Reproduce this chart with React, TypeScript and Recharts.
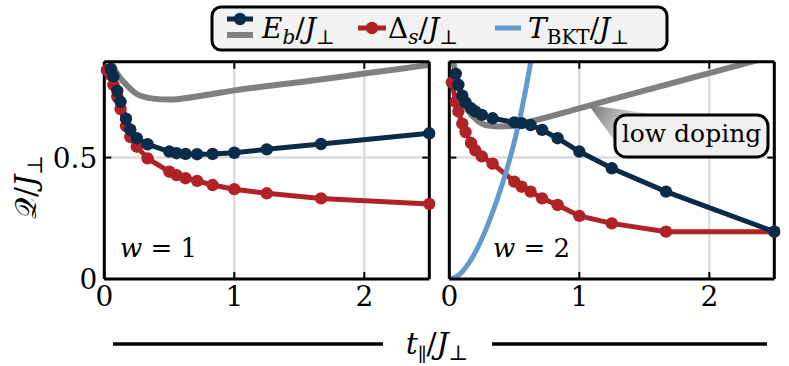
import React from "react";
import { LineChart, Line, XAxis, YAxis, CartesianGrid, ReferenceDot } from "recharts";

const SERIF = "DejaVu Serif, Liberation Serif, serif";
const NAVY = "#0b2b4b";
const RED = "#b02226";
const GRAY = "#808080";
const BLUE = "#6399cb";

// t_par / J_perp sample points (shared by E_b and Delta_s)
const tPar = [0.02, 0.05, 0.07, 0.1, 0.125, 0.167, 0.2, 0.25, 0.333, 0.5, 0.556, 0.625, 0.714, 0.833, 1.0, 1.25, 1.667, 2.5];

// w = 1
const ebW1 = [null, 0.865, 0.835, 0.775, 0.73, 0.66, 0.615, 0.58, 0.555, 0.525, 0.518, 0.515, 0.514, 0.515, 0.52, 0.534, 0.556, 0.6];
const dsW1 = [0.86, 0.84, 0.8, 0.75, 0.7, 0.63, 0.585, 0.545, 0.497, 0.442, 0.428, 0.415, 0.404, 0.387, 0.37, 0.353, 0.332, 0.309];
const lowX1 = [0.04, 0.08, 0.12, 0.16, 0.25, 0.375, 0.5, 0.75, 1.0, 1.5, 2.0, 2.5];
const lowW1 = [0.9, 0.862, 0.83, 0.805, 0.762, 0.743, 0.739, 0.755, 0.777, 0.81, 0.846, 0.882];

// w = 2
const ebW2 = [null, 0.845, 0.8, 0.755, 0.727, 0.703, 0.69, 0.676, 0.662, 0.645, 0.642, 0.634, 0.614, 0.58, 0.525, 0.456, 0.36, 0.195];
const dsW2 = [0.81, 0.73, 0.69, 0.64, 0.605, 0.56, 0.53, 0.505, 0.475, 0.401, 0.38, 0.36, 0.332, 0.305, 0.26, 0.229, 0.195, 0.195];
const lowX2 = [0.03, 0.06, 0.1, 0.15, 0.2, 0.3, 0.4, 0.5, 0.62, 1.0, 1.5, 2.0, 2.5];
const lowW2 = [0.895, 0.82, 0.75, 0.69, 0.66, 0.632, 0.628, 0.632, 0.648, 0.703, 0.776, 0.848, 0.92];
const bktX = [0, 0.05, 0.1, 0.15, 0.2, 0.25, 0.3, 0.35, 0.4, 0.45, 0.5, 0.55, 0.6, 0.65, 0.7];
const bktW2 = [0.0, 0.008, 0.03, 0.065, 0.11, 0.165, 0.228, 0.3, 0.378, 0.465, 0.565, 0.68, 0.815, 0.97, 1.14];

const xTicks = [0, 1, 2];
const yTicks = [0, 0.5];

function rows(xs: number[], ys: (number | null)[]) {
  return xs
    .map((x, i) => ({ x, y: ys[i] }))
    .filter((r) => r.y !== null);
}

const NoTick = () => <g />;

const dotStyle = (c: string) => ({ r: 6.2, fill: c, stroke: c, strokeWidth: 0, clipDot: false });

function wLabel(w: string) {
  return (props: any) => (
    <text x={props.cx} y={props.cy} fontFamily={SERIF} fontSize={26} fill="#000">
      <tspan fontStyle="italic">w</tspan>
      {" = "}
      {w}
    </text>
  );
}

function LowDopingTag(props: any) {
  const { cx, cy } = props;
  return (
    <g>
      <defs>
        <linearGradient
          id="wedgeFade"
          gradientUnits="userSpaceOnUse"
          x1={cx - 100}
          y1={cy - 30}
          x2={cx - 55}
          y2={cy - 5}
        >
          <stop offset="0" stopColor="#7a7a7a" />
          <stop offset="1" stopColor="#ececec" />
        </linearGradient>
      </defs>
      <polygon
        points={`${cx - 103},${cy - 31} ${cx - 76},${cy + 6} ${cx - 24},${cy - 20}`}
        fill="url(#wedgeFade)"
      />
      <rect x={cx - 76.5} y={cy - 21} width={153} height={42} rx={11} fill="#f0f0f0" stroke="#000" strokeWidth={3} />
      <text x={cx} y={cy + 6} textAnchor="middle" fontFamily={SERIF} fontSize={25} fill="#000">
        low doping
      </text>
    </g>
  );
}

interface PanelProps {
  plotLeft: number;
  yLabels: boolean;
  eb: (number | null)[];
  ds: (number | null)[];
  lowX: number[];
  low: number[];
  bkt?: number[];
  children?: React.ReactNode;
}

function Panel({ plotLeft, yLabels, eb, ds, lowX, low, bkt, children }: PanelProps) {
  const plotRight = plotLeft + 325;
  const yw = yLabels ? 40 : 1;
  const axisLine = { stroke: "#000", strokeWidth: 3 };
  const tickLine = { stroke: "#000", strokeWidth: 2 };
  const tickFont = { fill: "#000", fontSize: 28, fontFamily: SERIF };
  return (
    <div style={{ position: "absolute", left: 0, top: 0 }}>
      <LineChart
        width={789}
        height={366}
        margin={{ top: 60.7, right: 789 - plotRight - 1, bottom: 57, left: plotLeft - yw }}
      >
        <CartesianGrid stroke="#dcdcdc" strokeWidth={2.5} fill="none" />
        <XAxis
          type="number"
          dataKey="x"
          domain={[0, 2.5]}
          ticks={xTicks}
          interval={0}
          allowDataOverflow
          height={30}
          tickSize={-7}
          tickMargin={14}
          axisLine={axisLine}
          tickLine={tickLine}
          tick={tickFont}
        />
        <XAxis
          xAxisId="top"
          orientation="top"
          type="number"
          dataKey="x"
          domain={[0, 2.5]}
          ticks={xTicks}
          interval={0}
          allowDataOverflow
          height={1}
          tickSize={-7}
          axisLine={axisLine}
          tickLine={tickLine}
          tick={<NoTick />}
        />
        <YAxis
          type="number"
          domain={[0, 0.895]}
          ticks={yTicks}
          interval={0}
          allowDataOverflow
          width={yw}
          tickSize={-7}
          tickMargin={14}
          axisLine={axisLine}
          tickLine={tickLine}
          tick={yLabels ? tickFont : <NoTick />}
        />
        <YAxis
          yAxisId="right"
          orientation="right"
          type="number"
          domain={[0, 0.895]}
          ticks={yTicks}
          interval={0}
          allowDataOverflow
          width={1}
          tickSize={-7}
          axisLine={axisLine}
          tickLine={tickLine}
          tick={<NoTick />}
        />
        <Line
          data={rows(lowX, low)}
          dataKey="y"
          type="monotone"
          stroke={GRAY}
          strokeWidth={6}
          dot={false}
          activeDot={false}
          isAnimationActive={false}
        />
        <Line
          data={rows(tPar, ds)}
          dataKey="y"
          type="linear"
          stroke={RED}
          strokeWidth={5}
          dot={dotStyle(RED)}
          activeDot={false}
          isAnimationActive={false}
        />
        <Line
          data={rows(tPar, eb)}
          dataKey="y"
          type="linear"
          stroke={NAVY}
          strokeWidth={5}
          dot={dotStyle(NAVY)}
          activeDot={false}
          isAnimationActive={false}
        />
        {bkt && (
          <Line
            data={rows(bktX, bkt)}
            dataKey="y"
            type="natural"
            stroke={BLUE}
            strokeWidth={5}
            dot={false}
            activeDot={false}
            isAnimationActive={false}
          />
        )}
        {children}
      </LineChart>
    </div>
  );
}

function Overlay() {
  const sub = 20;
  return (
    <svg
      width={789}
      height={366}
      style={{ position: "absolute", left: 0, top: 0, pointerEvents: "none" }}
    >
      {/* legend */}
      <rect x={212} y={7} width={455} height={43} rx={9} fill="#f2f2f2" stroke="#000" strokeWidth={3} />
      <line x1={227} y1={19} x2={253} y2={19} stroke={NAVY} strokeWidth={5} />
      <circle cx={240} cy={19} r={6.2} fill={NAVY} />
      <line x1={227} y1={35} x2={253} y2={35} stroke={GRAY} strokeWidth={6} />
      <text x={262} y={38} fontFamily={SERIF} fontSize={28} fill="#000">
        <tspan fontStyle="italic">E</tspan>
        <tspan fontStyle="italic" fontSize={sub} dy={6}>b</tspan>
        <tspan dy={-6}>/</tspan>
        <tspan fontStyle="italic">J</tspan>
        <tspan fontSize={sub} dy={6}>⊥</tspan>
      </text>
      <line x1={358} y1={28} x2={386} y2={28} stroke={RED} strokeWidth={5} />
      <circle cx={372} cy={28} r={6.2} fill={RED} />
      <text x={388} y={38} fontFamily={SERIF} fontSize={28} fill="#000">
        <tspan>Δ</tspan>
        <tspan fontStyle="italic" fontSize={sub} dy={6}>s</tspan>
        <tspan dy={-6}>/</tspan>
        <tspan fontStyle="italic">J</tspan>
        <tspan fontSize={sub} dy={6}>⊥</tspan>
      </text>
      <line x1={495} y1={28} x2={521} y2={28} stroke={BLUE} strokeWidth={5} />
      <text x={528} y={38} fontFamily={SERIF} fontSize={28} fill="#000">
        <tspan fontStyle="italic">T</tspan>
        <tspan fontSize={sub} dy={6}>BKT</tspan>
        <tspan dy={-6}>/</tspan>
        <tspan fontStyle="italic">J</tspan>
        <tspan fontSize={sub} dy={6}>⊥</tspan>
      </text>

      {/* y label */}
      <text
        transform="translate(36,187) rotate(-90)"
        textAnchor="middle"
        fontFamily={SERIF}
        fontSize={30}
        fill="#000"
      >
        <tspan>𝒬</tspan>
        <tspan>/</tspan>
        <tspan fontStyle="italic">J</tspan>
        <tspan fontSize={21} dy={6}>⊥</tspan>
      </text>

      {/* x label with rules */}
      <line x1={113} y1={344} x2={383} y2={344} stroke="#000" strokeWidth={3.5} />
      <line x1={492} y1={344} x2={767} y2={344} stroke="#000" strokeWidth={3.5} />
      <text x={437} y={354} textAnchor="middle" fontFamily={SERIF} fontSize={30} fill="#000">
        <tspan fontStyle="italic">t</tspan>
        <tspan fontSize={19} dy={7}>∥</tspan>
        <tspan dy={-7}>/</tspan>
        <tspan fontStyle="italic">J</tspan>
        <tspan fontSize={21} dy={6}>⊥</tspan>
      </text>
    </svg>
  );
}

export default function App() {
  return (
    <div style={{ position: "absolute", left: 0, top: 0, width: 789, height: 366, background: "#fff" }}>
      <Panel plotLeft={104.3} yLabels eb={ebW1} ds={dsW1} lowX={lowX1} low={lowW1}>
        <ReferenceDot x={0.12} y={0.09} r={0} shape={wLabel("1")} />
      </Panel>
      <Panel plotLeft={449.3} yLabels={false} eb={ebW2} ds={dsW2} lowX={lowX2} low={lowW2} bkt={bktW2}>
        <ReferenceDot x={0.336} y={0.09} r={0} shape={wLabel("2")} />
        <ReferenceDot x={1.863} y={0.589} r={0} shape={LowDopingTag} />
      </Panel>
      <Overlay />
    </div>
  );
}
